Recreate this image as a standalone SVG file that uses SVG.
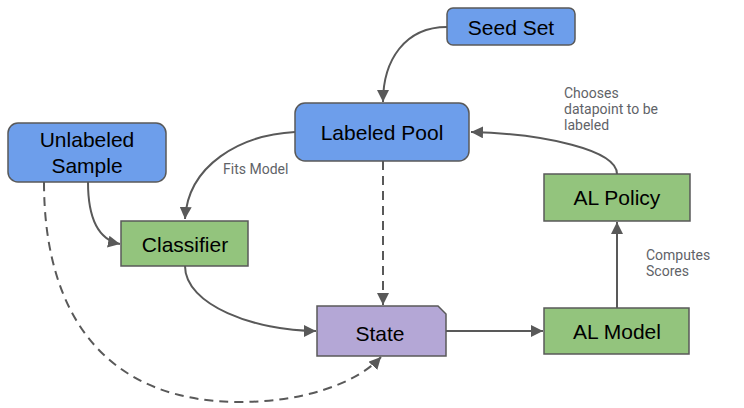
<svg xmlns="http://www.w3.org/2000/svg" width="744" height="408" viewBox="0 0 744 408">
<style>
.node{stroke:#595959;stroke-width:1.5}
.blue{fill:#6d9eeb}
.green{fill:#93c47d}
.purple{fill:#b4a7d6}
.t{font-family:"Liberation Sans",Arial,sans-serif;font-size:21px;fill:#000;text-anchor:middle}
.lbl{font-family:Roboto,"Liberation Sans",sans-serif;font-size:14px;fill:#5f6368}
.c{fill:none;stroke:#595959;stroke-width:2}
.d{stroke-dasharray:9,6}
</style>
<defs>
<marker id="ah" markerWidth="12" markerHeight="12" refX="10" refY="5" orient="auto" markerUnits="userSpaceOnUse" viewBox="0 0 10 10">
<path d="M0,0 L10,5 L0,10 z" fill="#595959"/>
</marker>
</defs>
<rect width="744" height="408" fill="#fff"/>
<g id="connectors">
<path class="c" d="M447,27 C405,27 383,60 383,102" marker-end="url(#ah)"/>
<path class="c" d="M617,174 C617,150 545,134 471,132" marker-end="url(#ah)"/>
<path class="c" d="M617,308 L617,222" marker-end="url(#ah)"/>
<path class="c" d="M446,331 L543,331" marker-end="url(#ah)"/>
<path class="c" d="M185,266 C185,305 255,331 316,331" marker-end="url(#ah)"/>
<path class="c" d="M88,182 C88,222 100,240 120,244" marker-end="url(#ah)"/>
<path class="c" d="M295,132 C240,135 188,165 185,219" marker-end="url(#ah)"/>
<path class="c d" d="M383,161 L383,305" marker-end="url(#ah)"/>
<path class="c d" d="M44,182 C44,320 110,402 240,402 C300,402 355,385 381,357" marker-end="url(#ah)"/>
<text class="lbl" x="223" y="174">Fits Model</text>
<text class="lbl" x="564" y="98">Chooses</text>
<text class="lbl" x="564" y="114">datapoint to be</text>
<text class="lbl" x="564" y="130">labeled</text>
<text class="lbl" x="646" y="260">Computes</text>
<text class="lbl" x="646" y="276">Scores</text>
</g>
<g id="seed-set">
<rect class="node blue" x="447" y="8" width="128" height="37" rx="6"/>
<text class="t" x="511" y="35">Seed Set</text>
</g>
<g id="labeled-pool">
<rect class="node blue" x="295" y="103" width="174" height="58" rx="10"/>
<text class="t" x="382" y="140">Labeled Pool</text>
</g>
<g id="unlabeled-sample">
<rect class="node blue" x="8" y="123" width="158" height="59" rx="10"/>
<text class="t" x="87" y="147">Unlabeled</text>
<text class="t" x="87" y="173">Sample</text>
</g>
<g id="classifier">
<rect class="node green" x="121" y="221" width="127" height="45"/>
<text class="t" x="185" y="252">Classifier</text>
</g>
<g id="state">
<path class="node purple" d="M317,306 L438,306 L446,314 L446,356 L317,356 Z"/>
<text class="t" x="380" y="341">State</text>
</g>
<g id="al-model">
<rect class="node green" x="544" y="308" width="145" height="46"/>
<text class="t" x="617" y="339">AL Model</text>
</g>
<g id="al-policy">
<rect class="node green" x="544" y="174" width="146" height="47"/>
<text class="t" x="617" y="205">AL Policy</text>
</g>
</svg>
